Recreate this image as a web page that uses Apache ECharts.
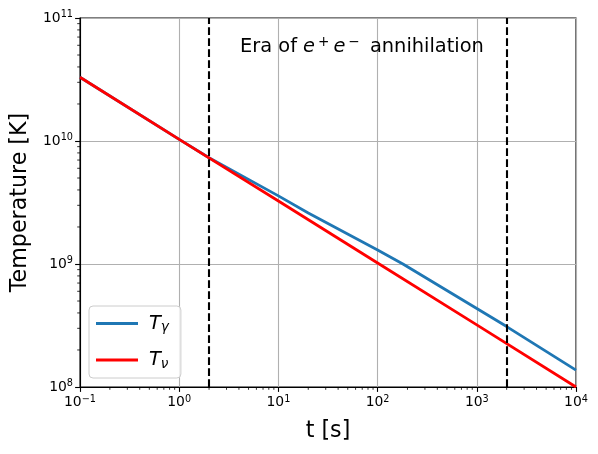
<!DOCTYPE html>
<html>
<head>
<meta charset="utf-8">
<script src="https://cdn.jsdelivr.net/npm/echarts@6/dist/echarts.min.js"></script>
<style>
html,body{margin:0;padding:0;background:#fff;}
#chart{width:598px;height:454px;}
</style>
</head>
<body>
<div id="chart"></div>
<script>
// ---- data ----
const tGamma = [0.1, 1, 2, 10, 20, 100, 180, 1000, 2000, 10000];
const TGamma = [3.3e10, 1.03e10, 7.3e9, 3.58e9, 2.6e9, 1.3e9, 1.0e9, 4.35e8, 3.1e8, 1.37e8];
const tNu = [0.1, 1, 10, 100, 1000, 10000];
const TNu = [3.3e10, 1.03e10, 3.25e9, 1.02e9, 3.2e8, 1.0e8];
const eraBounds = [2, 2000];
const xRange = [0.1, 10000];
const yRange = [1e8, 1e11];
const seriesNames = ['T_γ', 'T_ν'];

function minorValues(lo, hi) {
  const out = [];
  for (let d = lo; d < hi * 0.99; d *= 10) {
    for (let k = 2; k <= 9; k++) out.push(+(d * k).toPrecision(3));
  }
  return out;
}
const FONT = 'DejaVu Sans';
function powLabel(v) {
  const e = Math.round(Math.log10(v));
  return '{b|10}{sup|' + (e < 0 ? '\u2212' + (-e) : e) + '}';
}
const labelRich = {
  b: {fontSize: 13.9, fontFamily: FONT, color: '#000'},
  sup: {fontSize: 9.7, fontFamily: FONT, color: '#000', verticalAlign: 'bottom', padding: [0, 0, 7, 0]}
};
const axisBase = {
  type: 'log', logBase: 10, gridIndex: 0,
  axisLine: {show: true, lineStyle: {color: '#000', width: 1.1}},
  axisTick: {show: true, length: 4.9, inside: false, lineStyle: {color: '#000', width: 1.1}},
  splitLine: {show: true, lineStyle: {color: '#b0b0b0', width: 1.1}},
  minorTick: {show: false}, minorSplitLine: {show: false}
};

function tickRenderer(horizontal) {
  return function (params, api) {
    const p = api.coord([api.value(0), api.value(1)]);
    const L = 2.8;
    const shape = horizontal
      ? {x1: p[0], y1: p[1], x2: p[0], y2: p[1] + L}
      : {x1: p[0], y1: p[1], x2: p[0] - L, y2: p[1]};
    return {type: 'line', shape: shape, style: {stroke: '#000', lineWidth: 0.8}, silent: true};
  };
}

const chart = echarts.init(document.getElementById('chart'), null, {renderer: 'canvas'});
chart.setOption({
  animation: false,
  backgroundColor: '#fff',
  grid: {left: 80, right: 22, top: 18, bottom: 67, show: true, borderColor: '#000', borderWidth: 1.1, backgroundColor: 'transparent'},
  xAxis: Object.assign({}, axisBase, {
    min: xRange[0], max: xRange[1], position: 'bottom',
    axisLabel: {formatter: powLabel, rich: labelRich, margin: 7},
    name: 't [s]', nameLocation: 'middle', nameGap: 33,
    nameTextStyle: {fontSize: 22.2, fontFamily: FONT, color: '#000'}
  }),
  yAxis: Object.assign({}, axisBase, {
    min: yRange[0], max: yRange[1], position: 'left',
    axisLabel: {formatter: powLabel, rich: labelRich, margin: 7},
    name: 'Temperature [K]', nameLocation: 'middle', nameGap: 49,
    nameTextStyle: {fontSize: 22.2, fontFamily: FONT, color: '#000'}
  }),
  legend: {
    show: true, orient: 'vertical', left: 89, top: 306,
    data: seriesNames.map(n => ({name: n, icon: 'rect'})),
    backgroundColor: 'rgba(255,255,255,0.8)',
    borderColor: '#cccccc', borderWidth: 1, borderRadius: 4,
    padding: [8, 12, 7, 7],
    itemWidth: 42, itemHeight: 3, itemGap: 16,
    formatter: function (name) {
      return name === seriesNames[0] ? '{i|T}{s|γ}' : '{i|T}{s|ν}';
    },
    textStyle: {
      fontFamily: FONT, fontSize: 19.4, color: '#000', padding: [0, 0, 0, 6],
      rich: {
        i: {fontFamily: FONT, fontStyle: 'italic', fontSize: 19.4, color: '#000'},
        s: {fontFamily: FONT, fontStyle: 'italic', fontSize: 13.6, color: '#000', verticalAlign: 'top', padding: [8, 0, 0, 0]}
      }
    }
  },
  graphic: [{
    type: 'text', left: 240, top: 35, z: 100,
    style: {
      text: 'Era of {i|e}{sup|+}{i|e}{sup|\u2212} annihilation',
      font: '19.4px "DejaVu Sans"', fill: '#000',
      rich: {
        i: {fontFamily: FONT, fontStyle: 'italic', fontSize: 19.4, fill: '#000'},
        sup: {fontFamily: FONT, fontSize: 13.6, fill: '#000', verticalAlign: 'bottom', padding: [0, 4, 9, 3]}
      }
    }
  }],
  series: [
    {
      name: seriesNames[0], type: 'line',
      data: tGamma.map((t, i) => [t, TGamma[i]]),
      symbol: 'none', smooth: false,
      lineStyle: {color: '#1f77b4', width: 2.8}, itemStyle: {color: '#1f77b4'},
      z: 3
    },
    {
      name: seriesNames[1], type: 'line',
      data: tNu.map((t, i) => [t, TNu[i]]),
      symbol: 'none', smooth: false,
      lineStyle: {color: '#ff0000', width: 2.8}, itemStyle: {color: '#ff0000'},
      z: 4,
      markLine: {
        silent: true, symbol: 'none', label: {show: false},
        lineStyle: {color: '#000', type: [7.7, 3.3], width: 2.1},
        data: eraBounds.map(v => ({xAxis: v}))
      }
    },
    {
      type: 'custom', name: 'xminor', clip: false, silent: true, z: 10,
      renderItem: tickRenderer(true),
      data: minorValues(xRange[0], xRange[1]).map(v => [v, yRange[0]])
    },
    {
      type: 'custom', name: 'yminor', clip: false, silent: true, z: 10,
      renderItem: tickRenderer(false),
      data: minorValues(yRange[0], yRange[1]).map(v => [xRange[0], v])
    }
  ]
});
</script>
</body>
</html>
